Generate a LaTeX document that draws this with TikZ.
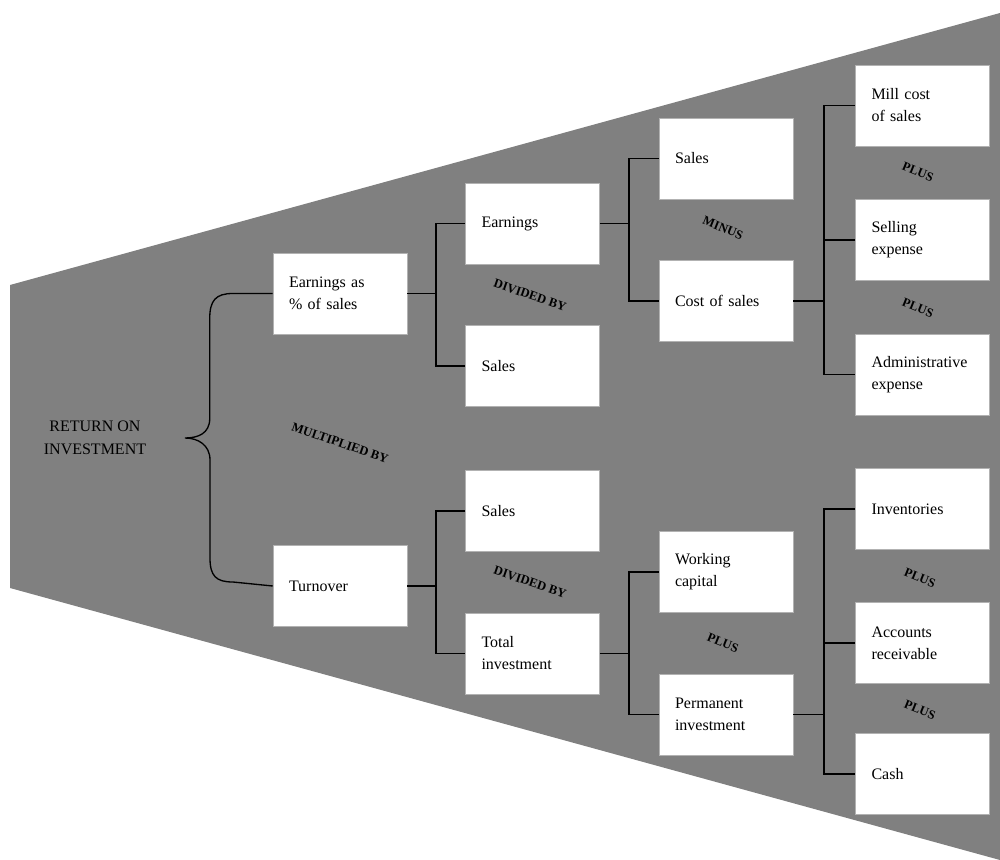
\documentclass[tikz,border=0pt]{standalone}
\usepackage{fontspec}
\setmainfont{Liberation Serif}
\begin{document}
\begin{tikzpicture}[x=0.75pt,y=-0.75pt,
  box/.style={rectangle, fill=white, draw=black!30, line width=0.4pt,
    minimum width=100.5pt, minimum height=60.75pt, text width=76.5pt,
    inner xsep=12pt, inner ysep=0pt, align=left,
    font=\fontsize{12}{16.5}\selectfont},
  conn/.style={line width=1.2pt, black},
  op/.style={font=\fontsize{9.5}{10}\selectfont\bfseries, inner sep=0pt}]
\useasboundingbox (0,0) rectangle (1000,860);
% funnel-shaped backdrop
\fill[fill=black!50] (10,285) -- (1000,13) -- (1000,860) -- (10,588) -- cycle;

% root label
\node[align=center, font=\fontsize{12}{17}\selectfont] (roi) at (95,438) {RETURN ON\\INVESTMENT};

% first level
\node[box] (eas)  at (340,293.5) {Earnings as\\\% of sales};
\node[box] (turn) at (340,586)   {Turnover};

% second level
\node[box] (earn) at (532.5,223.5) {Earnings};
\node[box] (salA) at (532.5,366)   {Sales};
\node[box] (salB) at (532.5,511)   {Sales};
\node[box] (tinv) at (532.5,653.5) {Total\\investment};

% third level
\node[box] (salC) at (726,158.5) {Sales};
\node[box] (cos)  at (726,301)   {Cost of sales};
\node[box] (wcap) at (726,572)   {Working\\capital};
\node[box] (pinv) at (726,714.5) {Permanent\\investment};

% fourth level
\node[box] (mill) at (922.5,105.5) {Mill cost\\of sales};
\node[box] (sell) at (922.5,240)   {Selling\\expense};
\node[box] (adm)  at (922.5,374.5) {Administrative\\expense};
\node[box] (invt) at (922.5,509)   {Inventories};
\node[box] (acr)  at (922.5,643)   {Accounts\\receivable};
\node[box] (cash) at (922.5,774)   {Cash};

% brace joining the two factors
\draw[line width=1pt] (eas.west) -- ++(-40,0)
  .. controls +(-17,0) and +(0,-18) .. ++(-23,25)
  -- ++(0,100)
  .. controls +(0,15) and +(13,0) .. (roi.east -| 185,442)
  .. controls +(13,0) and +(0,-15) .. ++(25,22)
  -- ++(0,98)
  .. controls +(0,18) and +(-17,0) .. ++(23,24)
  -- (turn.west);

% tree connectors
\draw[conn] (eas.east) -- ++(29,0) coordinate (j1);
\draw[conn] (earn.west) -| (j1) |- (salA.west);
\draw[conn] (turn.east) -- ++(29,0) coordinate (j2);
\draw[conn] (salB.west) -| (j2) |- (tinv.west);
\draw[conn] (earn.east) -- ++(29,0) coordinate (j3);
\draw[conn] (salC.west) -| (j3) |- (cos.west);
\draw[conn] (tinv.east) -- ++(29,0) coordinate (j4);
\draw[conn] (wcap.west) -| (j4) |- (pinv.west);
\draw[conn] (cos.east) -- ++(31,0) coordinate (j5);
\draw[conn] (mill.west) -| (j5) |- (adm.west);
\draw[conn] (sell.west) -- (sell.west -| j5);
\draw[conn] (pinv.east) -- ++(31,0) coordinate (j6);
\draw[conn] (invt.west) -| (j6) |- (cash.west);
\draw[conn] (acr.west) -- (acr.west -| j6);

% operators
\node[op, rotate=-19] (o1) at (340,443) {MULTIPLIED BY};
\node[op, rotate=-19] (o2) at (530,295) {DIVIDED BY};
\node[op, rotate=-19] (o3) at (530,582) {DIVIDED BY};
\node[op, rotate=-22] (o4) at (723,228) {MINUS};
\node[op, rotate=-22] (o5) at (723,643) {PLUS};
\node[op, rotate=-22] (o6) at (918,172) {PLUS};
\node[op, rotate=-22] (o7) at (918,308) {PLUS};
\node[op, rotate=-22] (o8) at (920,578) {PLUS};
\node[op, rotate=-22] (o9) at (920,710) {PLUS};
\end{tikzpicture}
\end{document}
